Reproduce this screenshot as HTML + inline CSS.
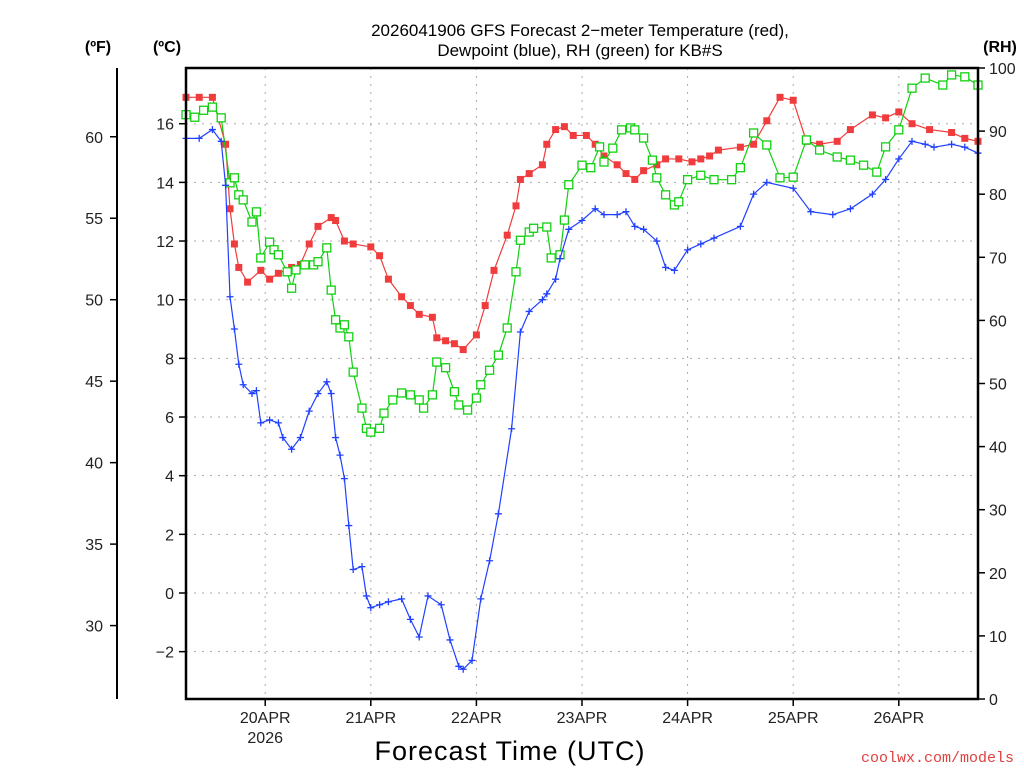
<!DOCTYPE html>
<html><head><meta charset="utf-8"><style>
html,body{margin:0;padding:0;background:#fff;}
svg{display:block;font-family:"Liberation Sans",sans-serif;}
</style></head><body>
<svg id="chart" width="1024" height="768" viewBox="0 0 1024 768">
<text x="580" y="36" font-size="17" text-anchor="middle" fill="#000">2026041906 GFS Forecast 2−meter Temperature (red),</text>
<text x="580" y="56" font-size="17" text-anchor="middle" fill="#000">Dewpoint (blue), RH (green) for KB#S</text>
<text x="98" y="52" font-size="16" font-weight="bold" text-anchor="middle">(ºF)</text>
<text x="167" y="52" font-size="16" font-weight="bold" text-anchor="middle">(ºC)</text>
<text x="1000" y="52" font-size="16" font-weight="bold" text-anchor="middle">(RH)</text>
<text x="510" y="760" font-size="27" text-anchor="middle" letter-spacing="1">Forecast Time (UTC)</text>
<text x="1014" y="762" font-size="15" text-anchor="end" fill="#e04040" font-family="Liberation Mono,monospace">coolwx.com/models</text>
<g id="grid"></g><g id="axes"></g><g id="series"></g>
<rect x="186" y="68" width="792" height="631" fill="none" stroke="#000" stroke-width="2.5"/>
</svg>
<script>
const tempHours=[0,3,6,9,10,11,12,14,17,19,21,24,26,28,30,33,34,36,38,42,44,46,49,51,53,56,57,59,61,63,66,68,70,73,75,76,78,81,82,84,86,88,91,93,95,98,100,102,104,107,109,112,115,117,119,121,126,129,132,135,138,141,144,148,151,156,159,162,165,169,174,177,180];
const tempC=[16.9,16.9,16.9,15.3,13.1,11.9,11.1,10.6,11.0,10.7,10.9,11.1,11.2,11.9,12.5,12.8,12.7,12.0,11.9,11.8,11.5,10.7,10.1,9.8,9.5,9.4,8.7,8.6,8.5,8.3,8.8,9.8,11.0,12.2,13.2,14.1,14.3,14.6,15.3,15.8,15.9,15.6,15.6,15.3,14.9,14.6,14.3,14.1,14.4,14.6,14.8,14.8,14.7,14.8,14.9,15.1,15.2,15.3,16.1,16.9,16.8,15.4,15.3,15.4,15.8,16.3,16.2,16.4,16.0,15.8,15.7,15.5,15.4];
const dewHours=[0,3,6,8,9,10,11,12,13,15,16,17,19,21,22,24,26,28,30,32,33,34,35,36,37,38,40,41,42,44,46,49,51,53,55,58,60,62,63,65,67,69,71,74,76,78,81,82,84,85,87,90,93,95,98,100,102,104,107,109,111,114,117,120,126,129,132,138,142,147,151,156,159,162,165,168,170,174,177,180];
const dewC=[15.5,15.5,15.8,15.4,13.9,10.1,9.0,7.8,7.1,6.8,6.9,5.8,5.9,5.8,5.3,4.9,5.3,6.2,6.8,7.2,6.8,5.3,4.7,3.9,2.3,0.8,0.9,-0.1,-0.5,-0.4,-0.3,-0.2,-0.9,-1.5,-0.1,-0.4,-1.6,-2.5,-2.6,-2.3,-0.2,1.1,2.7,5.6,8.9,9.6,10.0,10.2,10.7,11.4,12.4,12.7,13.1,12.9,12.9,13.0,12.5,12.4,12.0,11.1,11.0,11.7,11.9,12.1,12.5,13.6,14.0,13.8,13.0,12.9,13.1,13.6,14.1,14.8,15.4,15.3,15.2,15.3,15.2,15.0];
const rhHours=[0,2,4,6,8,10,11,12,13,15,16,17,19,20,21,23,24,25,27,29,30,32,33,34,35,36,37,38,40,41,42,44,45,47,49,51,53,54,56,57,59,61,62,64,66,67,69,71,73,75,76,78,79,82,83,85,86,87,90,92,94,95,97,99,101,102,104,106,107,109,111,112,114,117,120,124,126,129,132,135,138,141,144,148,151,154,157,159,162,165,168,172,174,177,180];
const rhPct=[92.6,92.2,93.3,93.8,92.1,81.8,82.6,79.9,79.1,75.6,77.2,69.9,72.4,71.2,70.4,67.7,65.1,68.0,68.8,68.8,69.3,71.5,64.8,60.1,58.8,59.3,57.4,51.8,46.1,42.9,42.3,42.9,45.3,47.4,48.5,48.2,47.4,46.1,48.2,53.4,52.5,48.7,46.6,45.8,47.7,49.8,52.1,54.5,58.8,67.7,72.7,74.0,74.6,74.8,69.9,70.4,75.9,81.5,84.6,84.2,87.5,85.1,87.3,90.2,90.5,90.2,88.9,85.4,82.6,79.9,78.3,78.8,82.3,83.0,82.3,82.3,84.2,89.7,87.8,82.6,82.7,88.6,87.0,85.9,85.4,84.6,83.5,87.5,90.2,96.8,98.4,97.3,98.9,98.6,97.3];
const dayLabels=["20APR","21APR","22APR","23APR","24APR","25APR","26APR"];
const dayHours=[18,42,66,90,114,138,162];
const cTicks=[-2,0,2,4,6,8,10,12,14,16];
const fTicks=[30,35,40,45,50,55,60];
const rhTicks=[0,10,20,30,40,50,60,70,80,90,100];

const NS="http://www.w3.org/2000/svg";
const X0=186,X1=978,Y0=68,Y1=699;
const xOf=h=>X0+(h/180)*(X1-X0);
const yC=c=>593-c*29.33;
const yF=f=>yC((f-32)*5/9);
const yRH=r=>Y1-r*(Y1-Y0)/100;
function mk(tag,attrs,parent){const e=document.createElementNS(NS,tag);for(const k in attrs)e.setAttribute(k,attrs[k]);parent.appendChild(e);return e;}
const grid=document.getElementById('grid'),axes=document.getElementById('axes'),ser=document.getElementById('series');

cTicks.forEach(c=>{const y=yC(c);
 const g=mk('line',{x1:X0,x2:X1,y1:y,y2:y,stroke:'#aaa','stroke-dasharray':'2,6'},grid);
 
 mk('line',{x1:X0-7,x2:X0,y1:y,y2:y,stroke:'#000','stroke-width':1.5},axes);
 const t=mk('text',{x:174,y:y+6,'font-size':16,'text-anchor':'end',fill:'#222'},axes);t.textContent=c<0?'−'+(-c):c;
 });
mk('line',{x1:117,x2:117,y1:Y0,y2:Y1,stroke:'#000','stroke-width':2},axes);
fTicks.forEach(f=>{const y=yF(f);
 mk('line',{x1:110,x2:117,y1:y,y2:y,stroke:'#000','stroke-width':1.5},axes);
 const t=mk('text',{x:103,y:y+6,'font-size':16,'text-anchor':'end',fill:'#222'},axes);t.textContent=f;
 });
rhTicks.forEach(r=>{const y=yRH(r);
 mk('line',{x1:X1,x2:X1+7,y1:y,y2:y,stroke:'#000','stroke-width':1.5},axes);
 const t=mk('text',{x:989,y:y+6,'font-size':16,'text-anchor':'start',fill:'#222'},axes);t.textContent=r;
 });
dayHours.forEach((h,i)=>{const x=xOf(h);
 const g=mk('line',{x1:x,x2:x,y1:Y0,y2:Y1,stroke:'#aaa','stroke-dasharray':'2,6'},grid);
 
 mk('line',{x1:x,x2:x,y1:Y1,y2:Y1+7,stroke:'#000','stroke-width':1.5},axes);
 const t=mk('text',{x:x,y:723,'font-size':16,'text-anchor':'middle',fill:'#222'},axes);t.textContent=dayLabels[i];
 });
const yr=mk('text',{x:xOf(18),y:743,'font-size':16,'text-anchor':'middle',fill:'#222'},axes);yr.textContent='2026';


function series(hours,vals,yf,color,marker,name){
 const pts=hours.map((h,i)=>[xOf(h),yf(vals[i])]);
 const p=mk('polyline',{points:pts.map(p=>p.join(',')).join(' '),fill:'none',stroke:color,'stroke-width':1.2},ser);
 
 pts.forEach(([x,y])=>{let m;
  if(marker==='fsq')m=mk('rect',{x:x-3.5,y:y-3.5,width:7,height:7,fill:color},ser);
  else if(marker==='osq')m=mk('rect',{x:x-4,y:y-4,width:8,height:8,fill:'#fff',stroke:color,'stroke-width':1.3},ser);
  else m=mk('path',{d:`M${x-3.5},${y}H${x+3.5}M${x},${y-3.5}V${y+3.5}`,stroke:color,'stroke-width':1.3},ser);
  });
}
series(tempHours,tempC,yC,'#f03c3c','fsq','temperature');
series(rhHours,rhPct,yRH,'#10d010','osq','relative-humidity');
series(dewHours,dewC,yC,'#2040ff','plus','dewpoint');
</script>
</body></html>
